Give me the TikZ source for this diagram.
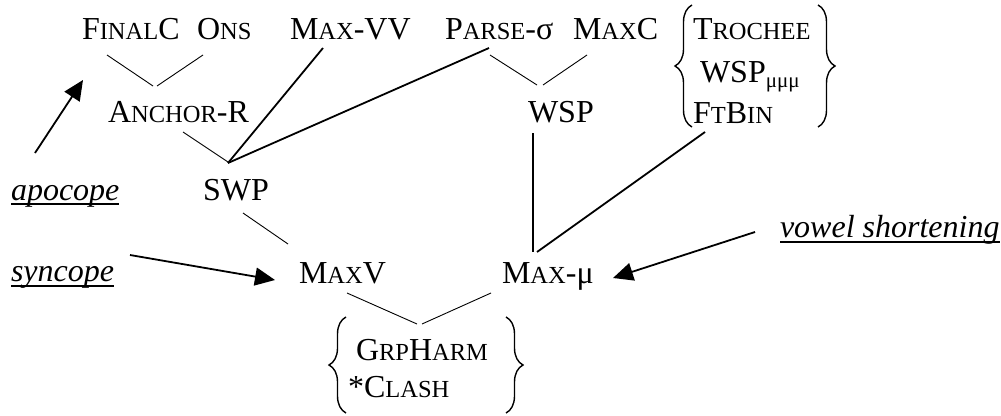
\documentclass[tikz,border=0pt]{standalone}
\usepackage{fontspec}
\setmainfont{Liberation Serif}
\usetikzlibrary{arrows.meta,decorations.pathreplacing}
\newcommand\kap{\fontsize{24.5}{24.5}\selectfont}
\newcommand\bigf{\fontsize{32}{38}\selectfont}
\tikzset{
  lbl/.style={anchor=base west,inner sep=0pt,outer sep=0pt,font=\bigf},
  dom/.style={line width=0.9pt},
  heavy/.style={line width=1.8pt},
  arr/.style={line width=1.8pt,-{Triangle[length=20pt,width=18pt]}},
  uline/.style={line width=2.4pt},
  brc/.style={line width=1.4pt,decorate,decoration={brace,amplitude=#1}}
}
\begin{document}
\begin{tikzpicture}[x=1pt,y=-1pt]
\useasboundingbox (0,0) rectangle (1001,415);
% text nodes
\node[lbl] (fc) at (82,39) {F{\kap INAL}C};
\node[lbl] (ons) at (197,39) {O{\kap NS}};
\node[lbl] (mvv) at (290,39) {M{\kap AX}-VV};
\node[lbl] (parse) at (445,39) {P{\kap ARSE}-σ};
\node[lbl] (maxc) at (573,39) {M{\kap AX}C};
\node[lbl] (troch) at (693,39) {T{\kap ROCHEE}};
\node[lbl] (wspm) at (700,82) {WSP\raisebox{-5pt}{\fontsize{21}{21}\selectfont μμμ}};
\node[lbl] (ftbin) at (693,123) {F{\kap T}B{\kap IN}};
\node[lbl] (anchor) at (108,122) {A{\kap NCHOR}-R};
\node[lbl] (wsp) at (528,122) {WSP};
\node[lbl] (swp) at (203,200) {SWP};
\node[lbl] (apoc) at (11,200) {\itshape apocope};
\node[lbl] (maxv) at (299,283) {M{\kap AX}V};
\node[lbl] (maxmu) at (502,283) {M{\kap AX}-μ};
\node[lbl] (sync) at (11,281) {\itshape syncope};
\node[lbl] (vowel) at (780,237) {\itshape vowel shortening};
\node[lbl] (grp) at (356,360) {G{\kap RP}H{\kap ARM}};
\node[lbl] (clash) at (348,397) {*C{\kap LASH}};
% underlines
\draw[uline] ([yshift=-4pt]apoc.base west) -- ([yshift=-4pt]apoc.base east);
\draw[uline] ([yshift=-5pt]sync.base west) -- ([yshift=-5pt]sync.base east);
\draw[uline] ([yshift=-5pt]vowel.base west) -- ([yshift=-5pt]vowel.base east);
% connector end points
\coordinate (fcE) at (107,55);  \coordinate (anT1) at (153,86);
\coordinate (onsE) at (203,55); \coordinate (anT2) at (157,86);
\coordinate (paE) at (490,55);  \coordinate (wsT1) at (537,85);
\coordinate (mcE) at (587,55);  \coordinate (wsT2) at (543,85);
\coordinate (anB) at (183,132); \coordinate (swT) at (228,162);
\coordinate (swB) at (243,213); \coordinate (mvT) at (288,244);
\coordinate (mvB) at (347,293); \coordinate (grT1) at (417,324);
\coordinate (mmB) at (491,293); \coordinate (grT2) at (422,324);
\coordinate (mvvB) at (323,48); \coordinate (swJ) at (228,163);
\coordinate (paB) at (489,48);
\coordinate (wsB) at (533,133); \coordinate (mmT1) at (533,252);
\coordinate (ftB) at (705,132); \coordinate (mmT2) at (537,252);
\coordinate (apoA) at (35,153); \coordinate (apoT) at (83,80);
\coordinate (synA) at (130,255); \coordinate (synT) at (275,280);
\coordinate (vowA) at (755,232); \coordinate (vowT) at (613,278);
% thin domination lines
\draw[dom] (fcE) -- (anT1);
\draw[dom] (onsE) -- (anT2);
\draw[dom] (paE) -- (wsT1);
\draw[dom] (mcE) -- (wsT2);
\draw[dom] (anB) -- (swT);
\draw[dom] (swB) -- (mvT);
\draw[dom] (mvB) -- (grT1);
\draw[dom] (mmB) -- (grT2);
% heavy lines
\draw[heavy] (mvvB) -- (swJ);
\draw[heavy] (paB) -- (swJ);
\draw[heavy] (wsB) -- (mmT1);
\draw[heavy] (ftB) -- (mmT2);
% arrows
\draw[arr] (apoA) -- (apoT);
\draw[arr] (synA) -- (synT);
\draw[arr] (vowA) -- (vowT);
% braces
\draw[brc=17pt] (692,127) -- (692,5);
\draw[brc=17pt] (818,5) -- (818,127);
\draw[brc=17pt] (346,413) -- (346,317);
\draw[brc=17pt] (506,317) -- (506,413);
\end{tikzpicture}
\end{document}
